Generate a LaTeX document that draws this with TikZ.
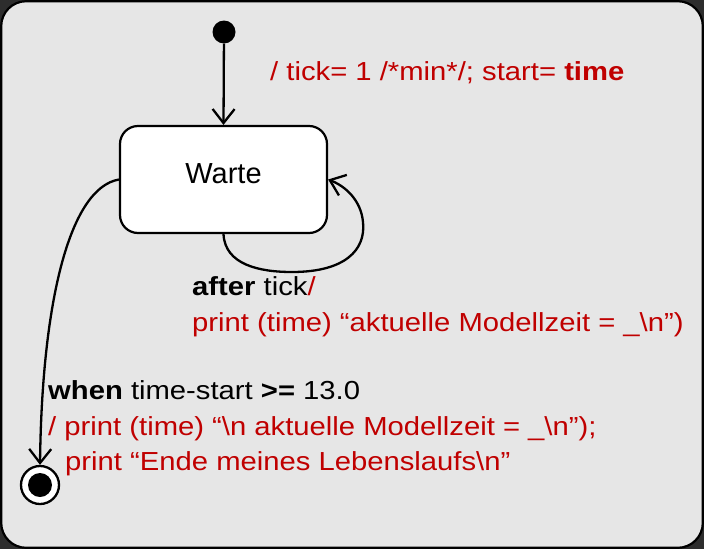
\documentclass[tikz,border=0pt]{standalone}
\usepackage{fontspec}
\setmainfont{Liberation Sans}
\newfontfamily\labfont[FakeStretch=1.12]{Liberation Sans}
\usetikzlibrary{arrows.meta}
\definecolor{actred}{RGB}{192,0,0}
\definecolor{panelgray}{RGB}{230,230,230}
\definecolor{outerdark}{RGB}{45,45,45}
\tikzset{
  state/.style={draw=black, line width=2.2pt, fill=white, rounded corners=18pt,
    minimum width=207pt, minimum height=107pt, inner sep=0pt,
    font=\fontsize{29}{34}\selectfont, text depth=12pt},
  trans/.style={draw=black, line width=2.3pt,
    -{Straight Barb[length=14pt,width=22pt,line width=2.3pt]}},
  lab/.style={inner sep=0pt, anchor=base west,
    font=\labfont\fontsize{26.1}{30}\selectfont},
  act/.style={lab, text=actred}
}
\begin{document}
\begin{tikzpicture}[x=1pt,y=-1pt]
  % canvas and rounded panel
  \fill[outerdark] (0,0) rectangle (704,549);
  \useasboundingbox (0,0) rectangle (704,549);
  \draw[fill=panelgray, line width=2.2pt, rounded corners=25pt] (1.2,1.2) rectangle (702.8,547.8);

  % pseudo states
  \node[circle, fill=black, minimum size=23pt, inner sep=0pt] (init) at (224,32) {};
  \node[circle, draw=black, line width=2.3pt, fill=white, minimum size=38pt, inner sep=0pt] (fin) at (40,485) {};
  \node[circle, fill=black, minimum size=24pt, inner sep=0pt] (finc) at (fin.center) {};

  % the state
  \node[state] (warte) at (223.5,179.5) {Warte};

  % transitions
  \draw[trans] (init) -- (warte.north);
  \draw[trans] (warte.south) .. controls (225,265) and (260,272) .. (292,272)
                .. controls (345,272) and (366,250) .. (363,222)
                .. controls (361,200) and (345,186) .. (warte.east);
  \draw[trans] (warte.west) .. controls (70,188) and (42,300) .. (fin.north);

  % labels
  \node[act] (initact) at (270,80) {/ tick= 1 /*min*/; start= \textbf{time}};
  \node[lab] (tickev) at (192,295) {\textbf{after} tick\textcolor{actred}{/}};
  \node[act] (tickact) at (192,331) {print (time) “aktuelle Modellzeit = \_\textbackslash n”)};
  \node[lab] (whenev) at (48,399) {\textbf{when} time-start \textbf{>=} 13.0};
  \node[act] (whenact) at (48,435) {/ print (time) “\textbackslash n aktuelle Modellzeit = \_\textbackslash n”);};
  \node[act] (whenact2) at (65,470) {print “Ende meines Lebenslaufs\textbackslash n”};
\end{tikzpicture}
\end{document}
